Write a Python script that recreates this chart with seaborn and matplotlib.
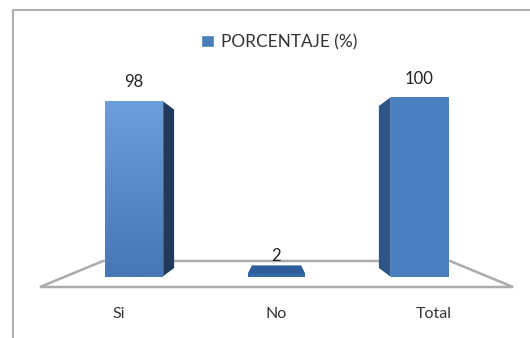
import numpy as np
import pandas as pd
import matplotlib
matplotlib.use("Agg")
import matplotlib.pyplot as plt
from matplotlib.patches import Polygon
from matplotlib.transforms import ScaledTranslation
import seaborn as sns

categories = ["Si", "No", "Total"]
values = [98, 2, 100]
series_name = "PORCENTAJE (%)"

W, H = 530, 338
sns.set_theme(style="white")
plt.rcParams["font.family"] = ["Lato", "DejaVu Sans"]
fig = plt.figure(figsize=(W / 100, H / 100), dpi=100, facecolor="white")

# axes: y=0 baseline at pixel 277, y=100 at pixel 97, categories spaced 143 px
ax_left, ax_right, ax_top, ax_bottom = 62, 490, 70, 277
ax = fig.add_axes([ax_left / W, 1 - ax_bottom / H, (ax_right - ax_left) / W, (ax_bottom - ax_top) / H])
ax.patch.set_alpha(0)
df = pd.DataFrame({"cat": categories, "val": values})
sns.barplot(data=df, x="cat", y="val", color="#4A7EBB", width=0.4, saturation=1,
            ax=ax, label=series_name, zorder=3)
px_x = 143.0
px_y = 1.8
ax.set_xlim((ax_left - 133.5) / px_x, (ax_right - 133.5) / px_x)
ax.set_ylim(0, (ax_bottom - ax_top) / px_y)
sns.despine(ax=ax, left=True, bottom=True, top=True, right=True)
ax.set_yticks([])
ax.set_xlabel("")
ax.set_ylabel("")
ax.tick_params(axis="x", length=0, pad=21.5, labelsize=11.5, labelcolor="#333333")

# tick labels spread by the original's perspective
label_shift_px = [-15, 0, 14]
for lab, s in zip(ax.get_xticklabels(), label_shift_px):
    lab.set_transform(lab.get_transform() + ScaledTranslation(s / 100, 0, fig.dpi_scale_trans))

# floor
dx = lambda p: p / px_x
dy = lambda p: p / px_y
floor_color = "#ABABAB"
x0, x1 = (40 - 133.5) / px_x, (513 - 133.5) / px_x
bx0, bx1 = (103 - 133.5) / px_x, (450 - 133.5) / px_x
yb, yf = dy(277 - 261), dy(277 - 287)
ax.add_patch(Polygon([(x0, yf), (bx0, yb), (bx1, yb), (x1, yf)], closed=True, fill=False,
                     edgecolor=floor_color, lw=1.8, clip_on=False, zorder=1))

# 3D faces and gradients derived from the bars
bars = list(ax.containers[0])
side_shift = [12, None, -12]
side_cols = ["#1F3A5C", None, "#2F5587"]
grads = [("#6C9EDC", "#4577B6"), None, ("#4A80C2", "#4A7FBF")]
for i, b in enumerate(bars):
    x, w, h = b.get_x(), b.get_width(), b.get_height()
    if side_shift[i] is not None:
        s = side_shift[i]
        edge = x + w if s > 0 else x
        ax.add_patch(Polygon([(edge, h), (edge + dx(s), h - dy(9)),
                              (edge + dx(s), dy(9)), (edge, 0)],
                             closed=True, color=side_cols[i], lw=0, zorder=2.5))
        top, bot = matplotlib.colors.to_rgb(grads[i][0]), matplotlib.colors.to_rgb(grads[i][1])
        g = np.linspace(top, bot, 64)[:, None, :]
        im = ax.imshow(g, extent=(x, x + w, 0, h), aspect="auto", zorder=3.5, interpolation="bilinear")
        im.set_clip_path(b)
        ax.set_xlim((ax_left - 133.5) / px_x, (ax_right - 133.5) / px_x)
        ax.set_ylim(0, (ax_bottom - ax_top) / px_y)
    else:
        ax.add_patch(Polygon([(x, h), (x + dx(4), h + dy(8)), (x + w - dx(4), h + dy(8)), (x + w, h)],
                             closed=True, color="#2C5C9A", lw=0, zorder=3))
        b.set_facecolor("#356AA9")
        b.set_edgecolor("#356AA9")
        b.set_linewidth(0)

# value labels
label_lift = [10.5, 9, 10]
for i, (b, v) in enumerate(zip(bars, values)):
    ax.annotate(str(v), xy=(b.get_x() + b.get_width() / 2, v), xytext=(0, label_lift[i] * 0.72),
                textcoords="offset points", ha="center", va="bottom", fontsize=12,
                color="#222222", zorder=6, annotation_clip=False)

# legend
handles, labels = ax.get_legend_handles_labels()
leg = ax.legend(handles, [series_name], loc="center", bbox_to_anchor=(279.5 / W, 1 - 42 / H),
                bbox_transform=fig.transFigure, frameon=False, fontsize=12.4,
                handlelength=0.75, handleheight=0.75, handletextpad=0.4)
for t in leg.get_texts():
    t.set_color("#333333")

# outer frame
fig.add_artist(plt.Line2D([12.5 / W, 12.5 / W, 1], [0, 1 - 10 / H, 1 - 10 / H], color="#AFAFAF", lw=1.5))

fig.savefig("out.png", dpi=100)
